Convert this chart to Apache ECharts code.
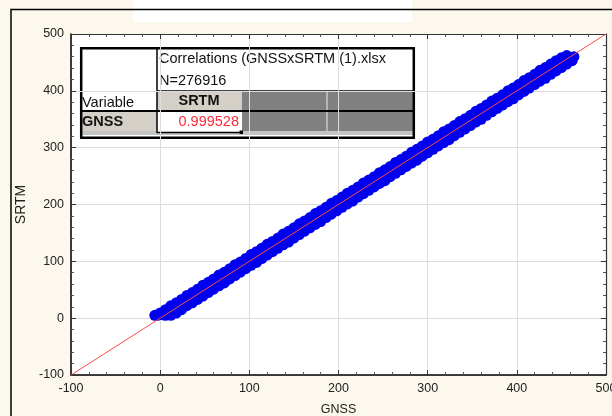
<!DOCTYPE html>
<html>
<head>
<meta charset="utf-8">
<script src="https://cdn.jsdelivr.net/npm/echarts/dist/echarts.min.js"></script>
<style>
  html, body { margin: 0; padding: 0; background: #fdf8ee; }
  #chart { width: 612px; height: 416px; }
</style>
</head>
<body>
<div id="chart"></div>
<script>
// GNSS vs SRTM elevations: the dense point cloud is sampled along its upper edge,
// centre and lower edge, as [GNSS, SRTM] pairs.
const upperEdge = [[-6,5],[0,9],[6,15],[12,22],[18,27],[24,33],[30,40],[36,45],[42,51],[48,58],[54,63],[60,69],[66,76],[72,81],[78,87],[84,94],[90,99],[96,105],[102,112],[108,117],[114,123],[120,130],[126,135],[132,141],[138,148],[144,153],[150,159],[156,166],[162,171],[168,177],[174,184],[180,189],[186,195],[192,202],[198,207],[204,213],[210,220],[216,225],[222,231],[228,238],[234,243],[240,249],[246,256],[252,261],[258,267],[264,274],[270,279],[276,285],[282,292],[288,297],[294,303],[300,310],[306,315],[312,321],[318,328],[324,333],[330,339],[336,346],[342,351],[348,357],[354,364],[360,369],[366,375],[372,382],[378,387],[384,393],[390,400],[396,405],[402,411],[408,418],[414,423],[420,429],[426,436],[432,441],[438,447],[444,453],[450,458],[456,462]];
const centreLine = [[-3,5],[3,6],[9,9],[15,15],[21,20],[27,28],[33,33],[39,38],[45,46],[51,51],[57,56],[63,64],[69,69],[75,74],[81,82],[87,87],[93,92],[99,100],[105,105],[111,110],[117,118],[123,123],[129,128],[135,136],[141,141],[147,146],[153,154],[159,159],[165,164],[171,172],[177,177],[183,182],[189,190],[195,195],[201,200],[207,208],[213,213],[219,218],[225,226],[231,231],[237,236],[243,244],[249,249],[255,254],[261,262],[267,267],[273,272],[279,280],[285,285],[291,290],[297,298],[303,303],[309,308],[315,316],[321,321],[327,326],[333,334],[339,339],[345,344],[351,352],[357,357],[363,362],[369,370],[375,375],[381,380],[387,388],[393,393],[399,398],[405,406],[411,411],[417,416],[423,424],[429,429],[435,434],[441,442],[447,447],[453,452],[459,459],[464,460]];
const lowerEdge = [[6,5],[12,5],[18,9],[24,15],[30,22],[36,27],[42,33],[48,39],[54,45],[60,51],[66,57],[72,62],[78,69],[84,75],[90,81],[96,87],[102,93],[108,98],[114,105],[120,111],[126,117],[132,123],[138,129],[144,134],[150,141],[156,147],[162,153],[168,159],[174,165],[180,170],[186,177],[192,183],[198,189],[204,195],[210,201],[216,206],[222,213],[228,219],[234,225],[240,231],[246,237],[252,242],[258,249],[264,255],[270,261],[276,267],[282,273],[288,278],[294,285],[300,291],[306,297],[312,303],[318,309],[324,314],[330,321],[336,327],[342,333],[348,339],[354,345],[360,350],[366,357],[372,363],[378,369],[384,375],[390,381],[396,386],[402,393],[408,399],[414,405],[420,411],[426,417],[432,422],[438,429],[444,435],[450,441],[456,447],[462,453]];

// 1:1 reference line
const identityLine = [[-100,-100],[500,500]];

const axisMin = -100, axisMax = 500, axisStep = 100;

// Correlation table text
const tableTitle = 'Correlations (GNSSxSRTM (1).xlsx';
const tableN = 'N=276916';
const rowHeader = 'Variable';
const colName = 'SRTM';
const rowName = 'GNSS';
const corrValue = '0.999528';

const FONT = '"Liberation Sans", Arial, sans-serif';

function mainAxis(pos, name, nameGap, nameSize) {
  return {
    type: 'value', min: axisMin, max: axisMax, interval: axisStep, position: pos,
    axisLine: { show: true, onZero: false, lineStyle: { color: '#000', width: 1.5 } },
    axisTick: { show: true, inside: true, length: 5, lineStyle: { color: '#333' } },
    minorTick: { show: true, splitNumber: 5, length: 3, lineStyle: { color: '#555' } },
    axisLabel: { color: '#222', fontSize: 12.5, fontFamily: FONT, margin: 7 },
    splitLine: { show: true, lineStyle: { color: '#dcdcdc', width: 1 } },
    name: name, nameLocation: 'middle', nameGap: nameGap,
    nameTextStyle: { color: '#222', fontSize: nameSize, fontFamily: FONT }
  };
}
function frameAxis(pos) {
  return {
    type: 'value', min: axisMin, max: axisMax, interval: axisStep, position: pos,
    axisLine: { show: true, onZero: false, lineStyle: { color: '#333', width: 1.2 } },
    axisTick: { show: true, inside: true, length: 5, lineStyle: { color: '#333' } },
    minorTick: { show: true, splitNumber: 5, length: 3, lineStyle: { color: '#555' } },
    axisLabel: { show: false },
    splitLine: { show: false }
  };
}

const txt = (x, y, text, extra) => ({
  type: 'text', x: x, y: y,
  style: Object.assign({ text: text, fill: '#111', font: '14.5px ' + FONT, textVerticalAlign: 'middle' }, extra || {})
});
const rect = (x, y, w, h, fill) => ({ type: 'rect', shape: { x: x, y: y, width: w, height: h }, style: { fill: fill } });
const line = (x1, y1, x2, y2, stroke, w) => ({ type: 'line', shape: { x1: x1, y1: y1, x2: x2, y2: y2 }, style: { stroke: stroke, lineWidth: w } });

const pointStyle = { color: '#0000f0', opacity: 1 };

const chart = echarts.init(document.getElementById('chart'), null, { renderer: 'canvas' });
chart.setOption({
  animation: false,
  backgroundColor: '#fdf8ee',
  grid: { left: 71, right: 6, top: 34, bottom: 41, outerBoundsMode: 'none', containLabel: false,
          show: true, backgroundColor: '#ffffff', borderWidth: 0 },
  xAxis: [mainAxis('bottom', 'GNSS', 28, 12.5), frameAxis('top')],
  yAxis: [mainAxis('left', 'SRTM', 41, 14), frameAxis('right')],
  series: [
    { type: 'scatter', data: upperEdge, symbolSize: 11, itemStyle: pointStyle, z: 2 },
    { type: 'scatter', data: centreLine, symbolSize: 11, itemStyle: pointStyle, z: 2 },
    { type: 'scatter', data: lowerEdge, symbolSize: 11, itemStyle: pointStyle, z: 2 },
    { type: 'line', data: identityLine, showSymbol: false, symbol: 'none',
      lineStyle: { color: '#ff4a4a', width: 1 }, z: 3 }
  ],
  graphic: [
    // page decorations: empty title box and outer frame
    { type: 'group', z: 0, silent: true, children: [
      rect(133, 0, 279, 22, '#ffffff'),
      { type: 'polyline', shape: { points: [[11, 416], [11, 9.5], [612, 9.5]] }, style: { stroke: '#000', lineWidth: 1.5, fill: null } }
    ]},
    // correlation table
    { type: 'group', z: 100, silent: true, children: [
      rect(80, 47, 335, 92, '#ffffff'),
      rect(157, 91, 85, 20, '#d4d0c8'),
      rect(242, 91, 171, 41, '#808080'),
      line(327, 91, 327, 131, '#c8c8c8', 1.5),
      rect(80, 112, 77, 20, '#d4d0c8'),
      rect(80, 131, 333, 4, '#c4c4c4'),
      rect(157, 112, 84, 20, '#ffffff'),
      line(157, 90.5, 413, 90.5, '#404040', 1),
      line(157, 47, 157, 111, '#000', 1.5),
      line(80, 111, 415, 111, '#000', 2),
      line(157, 111, 157, 133, '#000', 1.5),
      line(157, 132.5, 242, 132.5, '#000', 1.5),
      rect(239.5, 130.5, 3.5, 3.5, '#000'),
      { type: 'rect', shape: { x: 81.2, y: 48.2, width: 332.6, height: 89.6 }, style: { fill: null, stroke: '#000', lineWidth: 2.5 } },
      txt(159, 59, tableTitle),
      txt(159, 81, tableN),
      txt(82, 103, rowHeader),
      txt(199, 101, colName, { font: 'bold 14.5px ' + FONT, textAlign: 'center' }),
      txt(82, 122, rowName, { font: 'bold 14.5px ' + FONT }),
      txt(239, 122, corrValue, { fill: '#ff2a3a', textAlign: 'right' })
    ]}
  ]
});
</script>
</body>
</html>
